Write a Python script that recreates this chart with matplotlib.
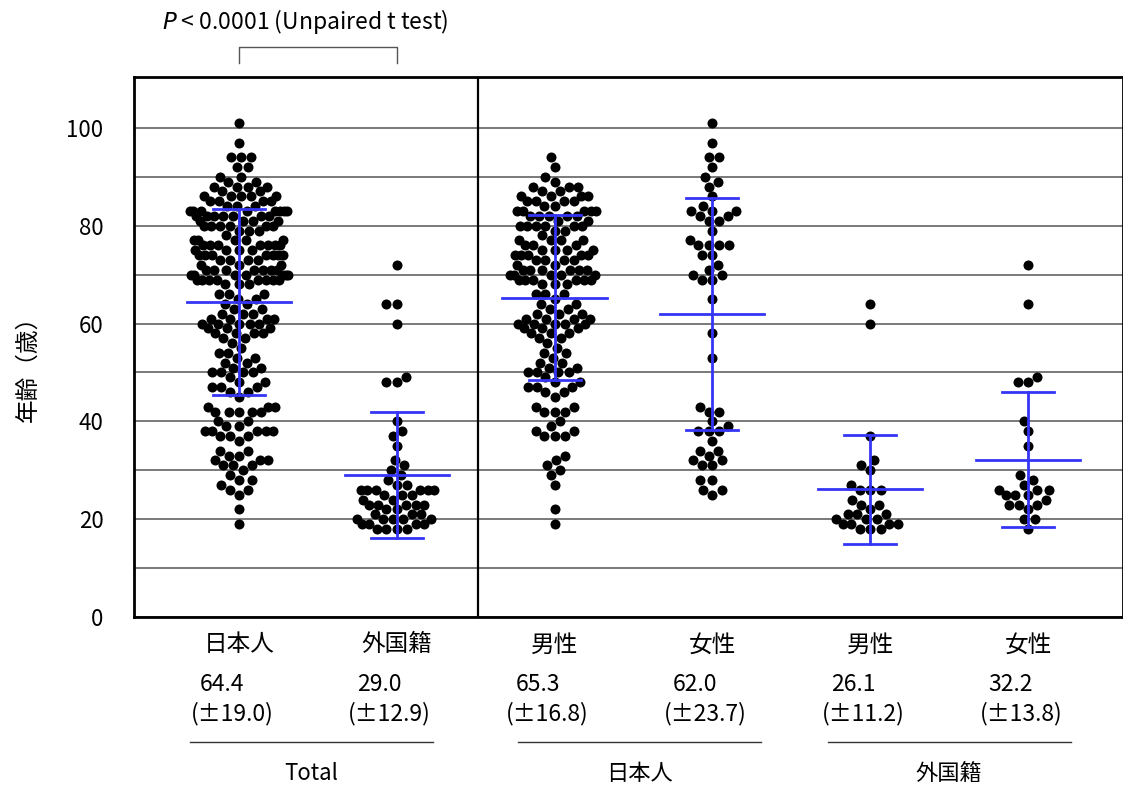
import numpy as np
import matplotlib
matplotlib.use("Agg")
import matplotlib.pyplot as plt

plt.rcParams['font.family'] = ['Noto Sans CJK JP', 'DejaVu Sans']

# ages
jp_male = [94, 92, 90, 89, 88, 88, 88, 87, 87, 86, 86, 86, 86, 85, 85, 85, 85, 84, 84,
           83, 83, 83, 83, 83, 82, 82, 82, 82, 82, 81, 81, 80, 80, 80, 80, 80, 80, 79, 79,
           78, 77, 77, 77, 77, 76, 76, 76, 75, 75, 75, 75, 74, 74, 74, 74, 74, 73, 73, 73,
           73, 72, 72, 71, 71, 71, 71, 71, 71, 70, 70, 70, 70, 70, 69, 69, 69, 69, 69, 69,
           68, 68, 68, 66, 66, 66, 65, 64, 64, 63, 63, 62, 62, 62, 61, 61, 61, 61, 60, 60,
           60, 60, 60, 59, 59, 59, 58, 58, 58, 57, 57, 56, 55, 54, 54, 53, 52, 52, 51, 51,
           50, 50, 50, 50, 49, 48, 48, 47, 47, 47, 46, 46, 45, 43, 43, 42, 42, 42, 40, 39,
           38, 38, 37, 37, 37, 33, 32, 31, 30, 29, 27, 22, 19]
jp_female = [101, 97, 94, 94, 92, 90, 89, 88, 86, 84, 83, 83, 83, 82, 82, 81, 81, 79, 77,
             76, 76, 76, 76, 74, 74, 72, 71, 70, 70, 69, 69, 65, 58, 53, 43, 42, 42, 40, 39,
             38, 38, 38, 36, 34, 34, 33, 32, 32, 31, 31, 28, 28, 26, 26, 25]
fg_male = [64, 60, 37, 32, 31, 30, 27, 26, 26, 26, 24, 23, 23, 22, 21, 21, 21, 20, 20, 20,
           19, 19, 19, 19, 18, 18, 18]
fg_female = [72, 64, 49, 48, 48, 40, 38, 35, 29, 28, 27, 26, 26, 26, 25, 25, 25, 24, 23, 23,
             23, 22, 20, 20, 18]

columns = [jp_male + jp_female, fg_male + fg_female, jp_male, jp_female, fg_male, fg_female]
col_names = ['日本人', '外国籍', '男性', '女性', '男性', '女性']
means = [64.4, 29.0, 65.3, 62.0, 26.1, 32.2]
sds = [19.0, 12.9, 16.8, 23.7, 11.2, 13.8]
groups = ['Total', '日本人', '外国籍']
group_centers = [0.46, 2.54, 4.5]

PX_X = 157.8   # pixels per category
PX_Y = 4.89    # pixels per year
GAP = 10.5     # dot spacing, pixels
MAX_HALF = 54  # swarm half width is squeezed towards this, pixels


def swarm_offsets(vals, d=GAP):
    """Beeswarm x offsets (in category units), wide rows squeezed in."""
    vals = np.asarray(vals, dtype=float)
    offs = np.zeros(len(vals))
    placed = []
    for i in np.argsort(vals, kind='stable'):
        y = vals[i] * PX_Y
        near = [(px, py) for px, py in placed if abs(py - y) < d]
        cands = [0.0]
        for px, py in near:
            dx = np.sqrt(d * d - (py - y) ** 2)
            cands += [px + dx, px - dx]
        cands.sort(key=lambda c: (round(abs(c), 3), c))
        for c in cands:
            if all((c - px) ** 2 + (y - py) ** 2 >= d * d - 1e-6 for px, py in near):
                offs[i] = c
                placed.append((c, y))
                break
    offs = MAX_HALF * np.tanh(offs / MAX_HALF)
    return offs / PX_X


fig = plt.figure(figsize=(11.23, 7.87), dpi=100)
ax = fig.add_axes([134 / 1123, 170 / 787, 989 / 1123, 540 / 787])

for k, vals in enumerate(columns):
    x = k + swarm_offsets(vals)
    ax.scatter(x, vals, s=52, color='black', linewidths=0, zorder=3)

blue = '#3535f5'
for k, (m, s) in enumerate(zip(means, sds)):
    ax.plot([k - 0.33, k + 0.33], [m, m], color=blue, lw=2, zorder=4)
    ax.plot([k, k], [m - s, m + s], color=blue, lw=2, zorder=4)
    for yy in (m - s, m + s):
        ax.plot([k - 0.165, k + 0.165], [yy, yy], color=blue, lw=2, zorder=4)

ax.axvline(1.515, color='black', lw=1.6, zorder=2)

ax.set_xlim(-0.665, 5.602)
ax.set_ylim(0, 110.4)
ax.set_xticks([])
ax.set_yticks(range(0, 101, 20))
ax.set_yticks(range(10, 101, 20), minor=True)
ax.yaxis.grid(True, which='both', color='#555555', lw=1.1, zorder=1)
ax.tick_params(axis='y', which='both', length=0, pad=22, labelsize=16)
for sp in ax.spines.values():
    sp.set_linewidth(2)
ax.set_ylabel('年齢（歳）', fontsize=17)
ax.yaxis.set_label_coords(-0.095, 0.47)

# labels under the axes
for k, name in enumerate(col_names):
    ax.text(k, -5.7, name, ha='center', va='center', fontsize=17)
    ax.text(k - 0.108, -13.9, f'{means[k]:.1f}', ha='center', va='center', fontsize=16.5)
    ax.text(k - 0.044, -19.8, f'(±{sds[k]:.1f})', ha='center', va='center', fontsize=16.5)

for c, g in zip(group_centers, groups):
    ax.plot([c - 0.77, c + 0.77], [-25.6, -25.6], color='#333333', lw=1, clip_on=False)
    ax.text(c, -31.9, g, ha='center', va='center', fontsize=16)

# significance bracket
ax.plot([0, 0, 1, 1], [113.3, 116.6, 116.6, 113.3], color='#555555', lw=1, clip_on=False)
ax.text(0.42, 121.7, '$P$ < 0.0001 (Unpaired t test)', ha='center', va='center', fontsize=16.5)

fig.savefig('out.png', dpi=100)
